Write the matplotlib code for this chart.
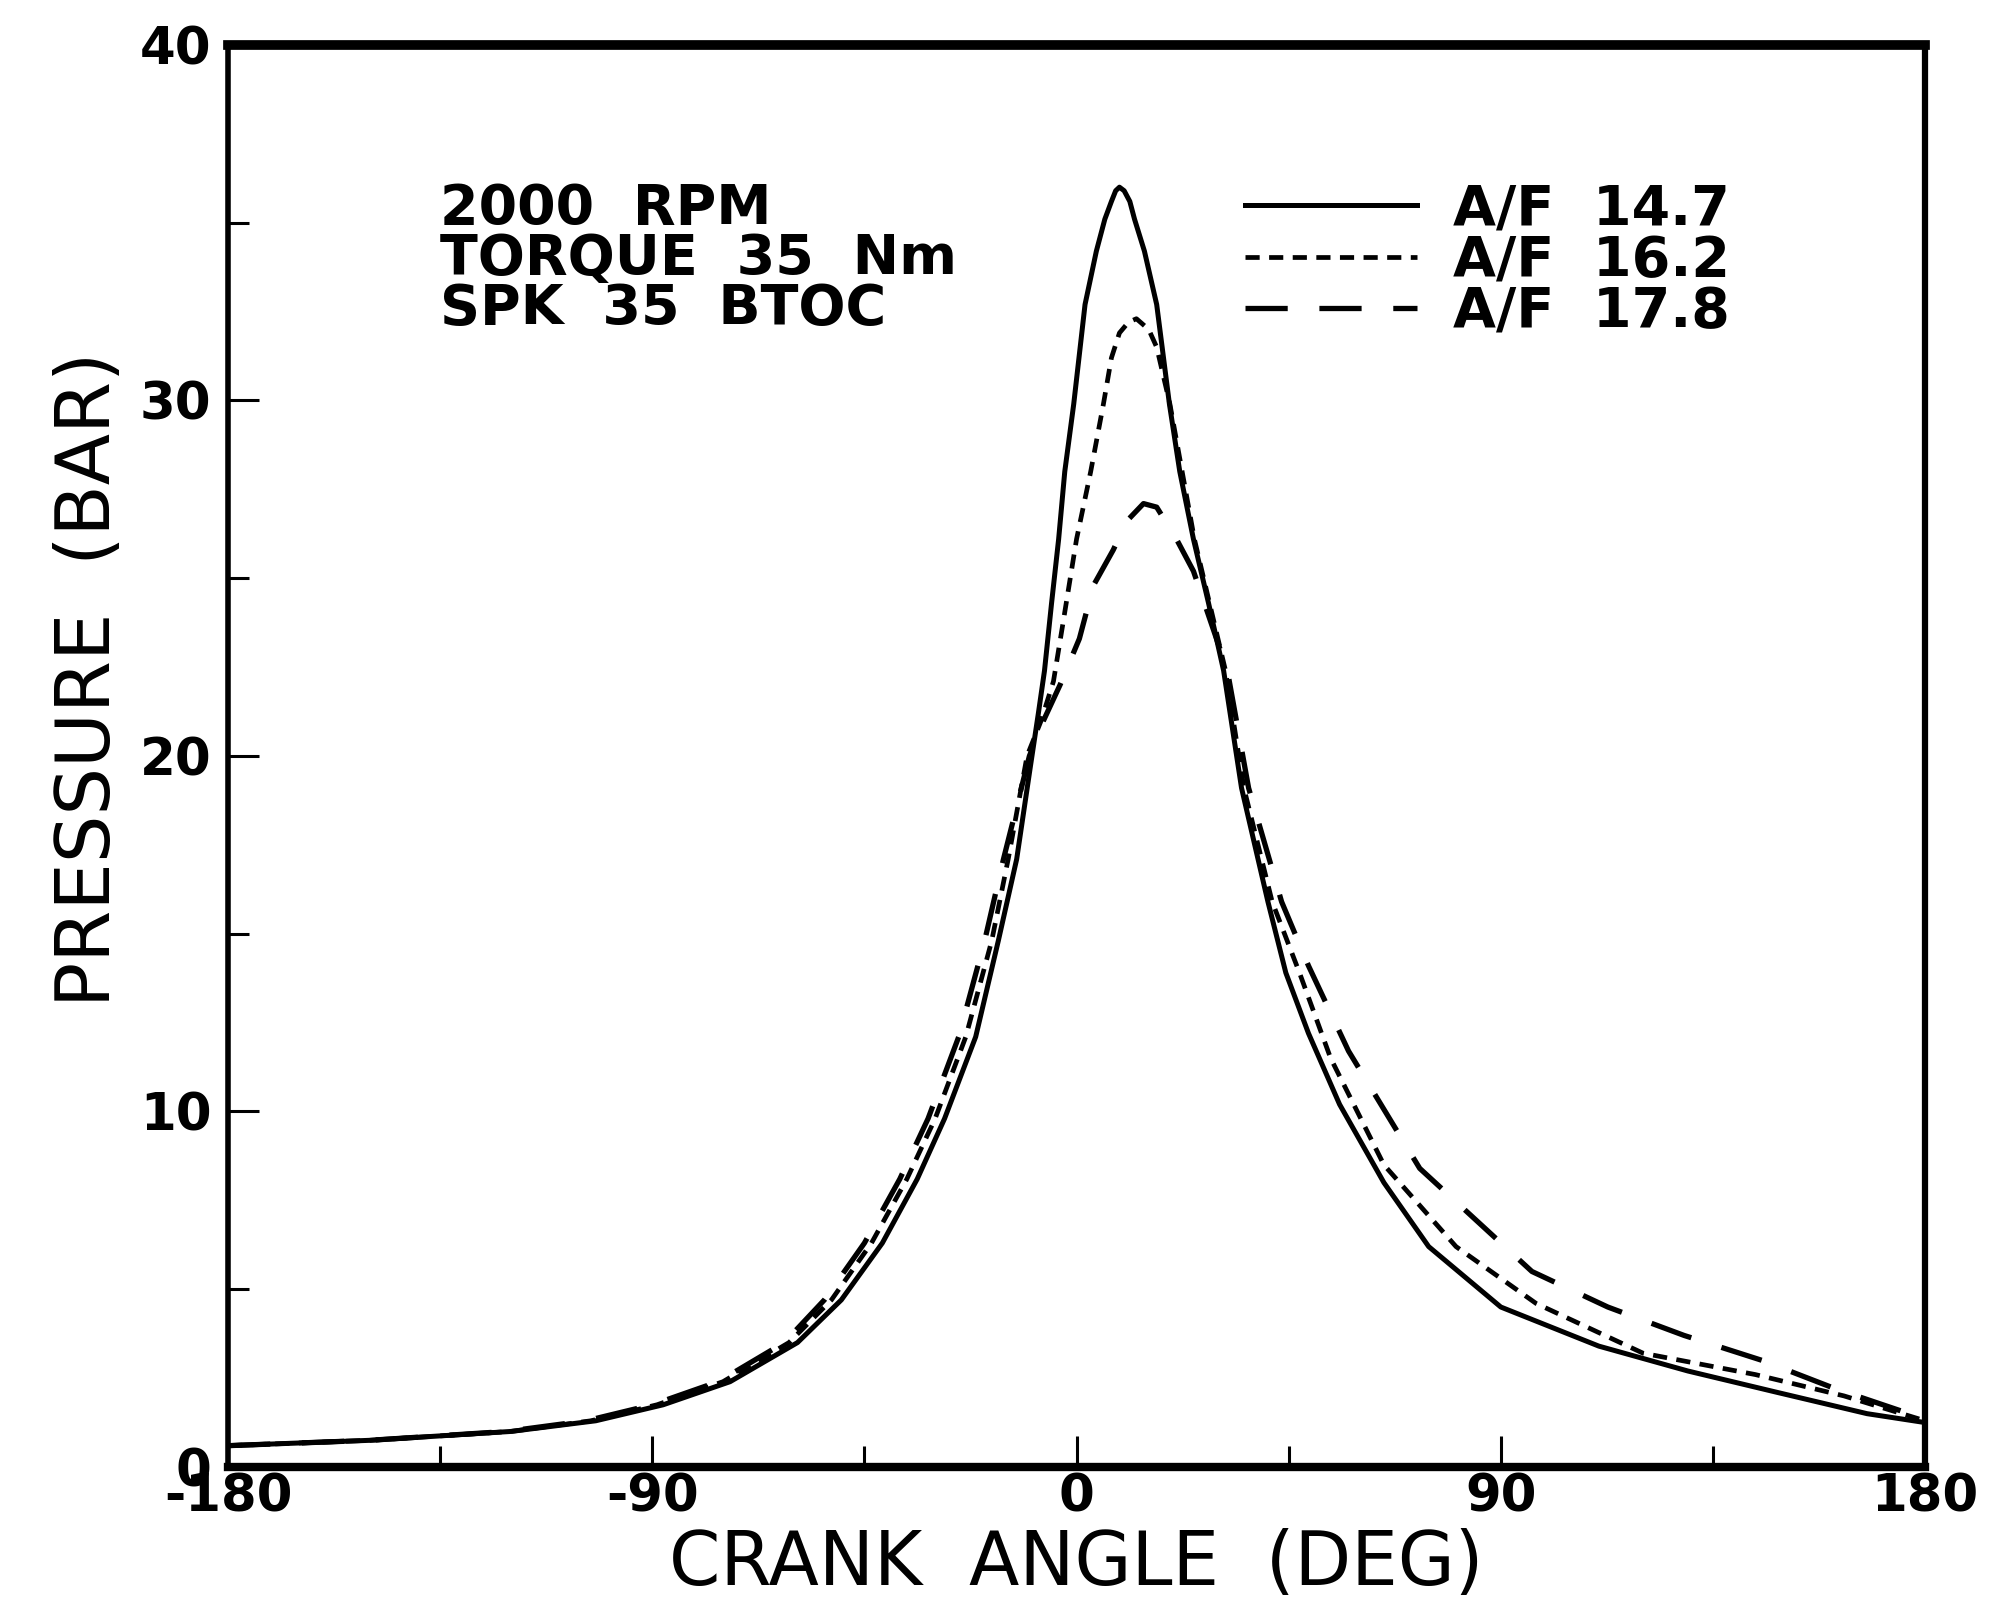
"""
Cylinder pressure vs crank angle for three air/fuel ratios.
"""

import matplotlib
matplotlib.use("Agg")
import matplotlib.pyplot as plt

#Crank angle (deg) and pressure (bar), A/F 14.7
angle_147 = [-180, -150, -120, -102, -87.7, -73.5, -59.2, -49.9, -41.2, -33.8, -28, -21.4,
             -16.6, -12.7, -9.8, -8.1, -6.8, -5.3, -3.8, -2.5, -0.6, 1.8, 4.2, 6.0, 7.4, 8.3,
             9.1, 10.1, 11.3, 12.3, 14.4, 17.0, 19.7, 21.9, 24.8, 28.0, 31.2, 35, 40.6, 44.4,
             49.2, 55.8, 65.2, 74.7, 90, 110.8, 129.7, 148.6, 167.7, 180]
pressure_147 = [0.6, 0.75, 1.0, 1.3, 1.75, 2.4, 3.5, 4.7, 6.3, 8.1, 9.8, 12.1,
                14.8, 17.1, 19.7, 21.2, 22.4, 24.3, 26.1, 28.0, 29.9, 32.7, 34.2, 35.1, 35.6, 35.9,
                36.0, 35.9, 35.6, 35.1, 34.2, 32.7, 29.9, 28.0, 26.1, 24.3, 22.4, 19.1, 15.9, 13.9,
                12.2, 10.2, 8.0, 6.2, 4.5, 3.4, 2.7, 2.1, 1.5, 1.25]

#A/F 16.2
angle_162 = [-180, -150, -120, -103, -89, -75, -61, -52, -43.5, -36, -30, -23.5,
             -18, -14.5, -10.5, -7.5, -4.9, -2.8, 0, 3.0, 5.7, 7.4, 9.1, 11.0, 12.7, 15.3,
             17.0, 19.8, 25, 31.6, 35.5, 41.5, 47.3, 53.9, 65.2, 80.5, 97.5, 120.2, 144,
             162.8, 180]
pressure_162 = [0.6, 0.75, 1.0, 1.3, 1.75, 2.4, 3.5, 4.7, 6.3, 8.1, 9.8, 12.1,
                14.8, 17.1, 20.0, 21.0, 22.1, 23.8, 26.1, 28.0, 29.9, 31.2, 31.9, 32.2, 32.3, 32.0,
                31.5, 29.9, 26.1, 22.4, 19.1, 15.9, 13.9, 11.5, 8.5, 6.2, 4.6, 3.2, 2.6,
                2.0, 1.3]

#A/F 17.8
angle_178 = [-180, -150, -121, -104, -90, -76, -62, -53.5, -45, -37.5, -31.5, -25,
             -19.5, -15.5, -10, -7, -3.5, 0.6, 3.6, 7.8, 10.6, 14.2, 17, 21.2, 24.8,
             32, 36.5, 43.5, 49.2, 57.7, 72.8, 96.6, 112.7, 128.9, 145.4, 161, 180]
pressure_178 = [0.6, 0.75, 1.0, 1.3, 1.75, 2.4, 3.5, 4.7, 6.3, 8.1, 9.8, 12.1,
                14.8, 17.1, 20.0, 21.0, 22.0, 23.3, 24.8, 25.8, 26.6, 27.1, 27.0, 26.1, 25.2,
                22.4, 19.1, 15.9, 14.1, 11.7, 8.4, 5.5, 4.5, 3.7, 3.0, 2.2, 1.35]

series_labels = ["A/F  14.7", "A/F  16.2", "A/F  17.8"]
x_ticks = [-180, -90, 0, 90, 180]
x_tick_labels = ["-180", "-90", "0", "90", "180"]
x_minor_ticks = [-135, -45, 45, 135]
y_ticks = [0, 10, 20, 30, 40]
y_minor_ticks = [5, 15, 25, 35]
conditions = "2000  RPM\nTORQUE  35  Nm\nSPK  35  BTOC"


def plot_pressure_traces():
    """
    Draw the three pressure traces with the test conditions and a legend.
    Outputs:
        Saves out.png
    """
    fig = plt.figure(figsize=(20.13, 16.01), dpi=100)
    ax = fig.add_axes([0.1133, 0.0837, 0.8430, 0.8882])

    #Traces
    ax.plot(angle_147, pressure_147, color="black", lw=3.6, linestyle="-",
            solid_joinstyle="round", label=series_labels[0])
    ax.plot(angle_162, pressure_162, color="black", lw=3.4, linestyle=(0, (3, 2)),
            label=series_labels[1])
    ax.plot(angle_178, pressure_178, color="black", lw=3.8, linestyle=(0, (8, 6)),
            label=series_labels[2])

    ax.set_xlim(-180, 180)
    ax.set_ylim(0, 40)

    #Ticks pointing into the frame
    ax.set_xticks(x_ticks)
    ax.set_xticklabels(x_tick_labels)
    ax.set_xticks(x_minor_ticks, minor=True)
    ax.set_yticks(y_ticks)
    ax.set_yticks(y_minor_ticks, minor=True)
    ax.tick_params(which="major", direction="in", length=22, width=2.2, labelsize=37)
    ax.tick_params(which="minor", direction="in", length=15, width=2.2)
    ax.tick_params(axis="x", which="major", pad=4)
    ax.tick_params(axis="y", which="major", pad=12)
    for lab in ax.get_xticklabels() + ax.get_yticklabels():
        lab.set_fontweight("bold")

    #Heavier frame on the top and bottom like the original plotter output
    ax.spines["top"].set_linewidth(7)
    ax.spines["bottom"].set_linewidth(6)
    ax.spines["left"].set_linewidth(4)
    ax.spines["right"].set_linewidth(4.5)

    ax.set_xlabel("CRANK  ANGLE  (DEG)", fontsize=53, labelpad=4)
    ax.set_ylabel("PRESSURE  (BAR)", fontsize=54)
    ax.yaxis.set_label_coords(-0.06, 0.554)

    #Test conditions block
    ax.text(0.125, 0.904, conditions, transform=ax.transAxes, ha="left", va="top",
            fontsize=40, fontweight="bold", linespacing=0.91)

    ax.legend(loc="upper left", bbox_to_anchor=(0.599, 0.903), frameon=False,
              borderpad=0, borderaxespad=0, handlelength=3.1, handletextpad=0.65,
              labelspacing=-0.05, prop={"size": 40, "weight": "bold"})

    fig.savefig("out.png", dpi=100, facecolor="white")


if __name__ == "__main__":
    plot_pressure_traces()
